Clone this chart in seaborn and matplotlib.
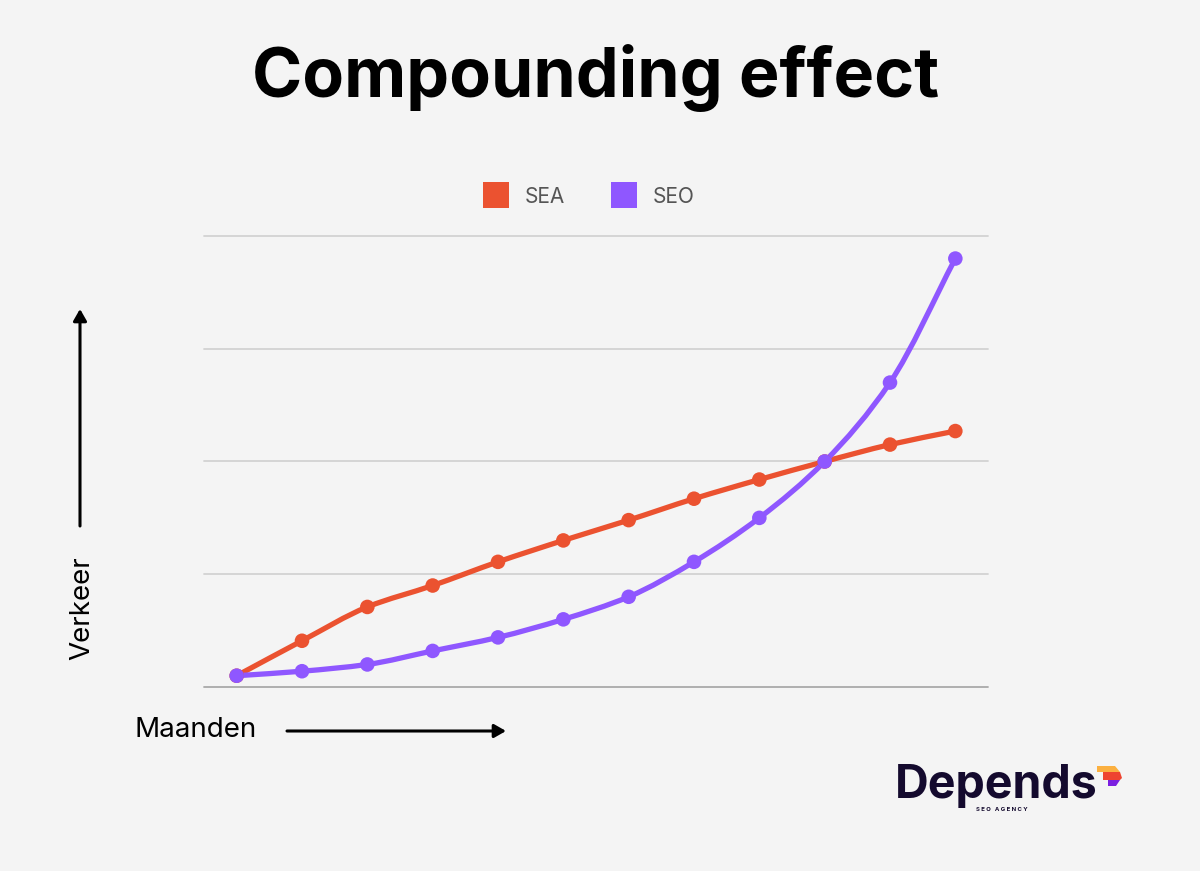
import numpy as np
import pandas as pd
import matplotlib
matplotlib.use("Agg")
import matplotlib.pyplot as plt
import seaborn as sns
from matplotlib.path import Path
from matplotlib.patches import PathPatch, Rectangle, FancyArrowPatch, Polygon

# ---- data ----
months = list(range(1, 13))
sea = [10, 41, 71, 90, 111, 130, 148, 167, 184, 200, 215, 227]
seo = [10, 14, 20, 32, 44, 60, 80, 111, 150, 200, 270, 380]
series_names = ["SEA", "SEO"]
colors = {"SEA": "#EB5230", "SEO": "#8F57FF"}
grid_vals = [0, 100, 200, 300, 400]

BG = "#F4F4F4"
sns.set_theme(style="white")
plt.rcParams["font.family"] = ["Inter", "DejaVu Sans"]

fig = plt.figure(figsize=(12, 8.71), dpi=100, facecolor=BG)
W, H = 1200, 871
ax = fig.add_axes([204 / W, 1 - 687 / H, (988 - 204) / W, (687 - 236) / H])
ax.set_facecolor(BG)
ax.set_xlim(0.5, 12.5)
ax.set_ylim(0, 400)
for s in ax.spines.values():
    s.set_visible(False)
ax.set_xticks([])
ax.set_yticks([])
for g in grid_vals:
    ax.axhline(g, color="#A9A9A9" if g == 0 else "#D2D2D2", lw=1.3, zorder=1, clip_on=False)


def smooth_path(x, y):
    x = np.asarray(x, float)
    y = np.asarray(y, float)
    n = len(x)
    d = np.diff(y) / np.diff(x)
    m = np.zeros(n)
    m[0], m[-1] = d[0], d[-1]
    for i in range(1, n - 1):
        if d[i - 1] * d[i] <= 0:
            m[i] = 0
        else:
            m[i] = 2 / (1 / d[i - 1] + 1 / d[i])
    verts = [(x[0], y[0])]
    codes = [Path.MOVETO]
    for i in range(n - 1):
        h = x[i + 1] - x[i]
        verts += [(x[i] + h / 3, y[i] + m[i] * h / 3),
                  (x[i + 1] - h / 3, y[i + 1] - m[i + 1] * h / 3),
                  (x[i + 1], y[i + 1])]
        codes += [Path.CURVE4] * 3
    return Path(verts, codes)


df = pd.DataFrame({"month": months * 2, "value": sea + seo,
                   "series": ["SEA"] * len(months) + ["SEO"] * len(months)})

for name, vals in [("SEA", sea), ("SEO", seo)]:
    p = smooth_path(months, vals)
    ax.add_patch(PathPatch(p, facecolor="none", edgecolor=colors[name], lw=3.8,
                           capstyle="round", joinstyle="round", zorder=3, clip_on=False))

sns.scatterplot(data=df, x="month", y="value", hue="series", palette=colors,
                s=110, edgecolor="none", legend=False, ax=ax, zorder=4, clip_on=False)
ax.set_xlabel("")
ax.set_ylabel("")

# ---- title ----
fig.text(596 / W, 1 - 78 / H, "Compounding effect", ha="center", va="center",
         fontsize=49, fontweight="bold", color="#000000")

# ---- legend ----
for (x0, name) in [(483, "SEA"), (611, "SEO")]:
    fig.patches.append(Rectangle((x0 / W, 1 - 208 / H), 26 / W, 26 / H, transform=fig.transFigure,
                                 facecolor=colors[name], edgecolor="none"))
    fig.text((x0 + 42) / W, 1 - 197 / H, name, ha="left", va="center", fontsize=15, color="#555555")

# ---- axis arrows / labels ----
arrow_style = "-|>,head_length=3.5,head_width=2"
fig.patches.append(FancyArrowPatch((80 / W, 1 - 526 / H), (80 / W, 1 - 309 / H), transform=fig.transFigure,
                                   arrowstyle=arrow_style, lw=2.2, color="black", mutation_scale=2,
                                   shrinkA=0, shrinkB=0))
fig.text(82 / W, 1 - 608 / H, "Verkeer", rotation=90, ha="center", va="center", fontsize=20, color="black")
fig.patches.append(FancyArrowPatch((287 / W, 1 - 731 / H), (506 / W, 1 - 731 / H), transform=fig.transFigure,
                                   arrowstyle=arrow_style, lw=2.2, color="black", mutation_scale=2,
                                   shrinkA=0, shrinkB=0))
fig.text(196 / W, 1 - 730 / H, "Maanden", ha="center", va="center", fontsize=20, color="black")

# ---- logo ----
fig.text(895 / W, 1 - 786 / H, "Depends", ha="left", va="center", fontsize=33.5, fontweight="bold",
         color="#140A2E")
fig.text(1002 / W, 1 - 809 / H, "S E O   A G E N C Y", ha="center", va="center", fontsize=4.3,
         fontweight="bold", color="#140A2E")
fig.patches.append(Polygon([(1097 / W, 1 - 766 / H), (1115 / W, 1 - 766 / H), (1120 / W, 1 - 772 / H),
                            (1097 / W, 1 - 772 / H)], closed=True, transform=fig.transFigure,
                           facecolor="#FBB040", edgecolor="none"))
fig.patches.append(Polygon([(1103 / W, 1 - 772 / H), (1120 / W, 1 - 772 / H), (1122 / W, 1 - 778 / H),
                            (1120 / W, 1 - 780 / H), (1103 / W, 1 - 780 / H)], closed=True,
                           transform=fig.transFigure, facecolor="#EE4430", edgecolor="none"))
fig.patches.append(Polygon([(1108 / W, 1 - 780 / H), (1120 / W, 1 - 780 / H), (1116 / W, 1 - 786 / H),
                            (1108 / W, 1 - 786 / H)], closed=True, transform=fig.transFigure,
                           facecolor="#7B1FE0", edgecolor="none"))

fig.savefig("out.png", dpi=100, facecolor=BG)
